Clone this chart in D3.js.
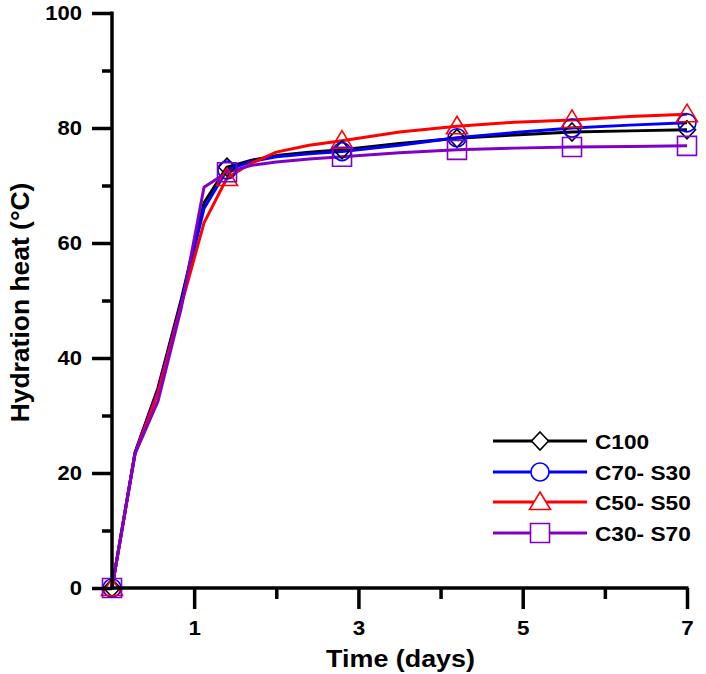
<!DOCTYPE html>
<html>
<head>
<meta charset="utf-8">
<script src="https://cdn.jsdelivr.net/npm/d3@7"></script>
<style>
  html, body { margin: 0; padding: 0; background: #fff; }
  svg { display: block; }
  text { font-family: Arial, "Liberation Sans", sans-serif; font-weight: bold; fill: #000; }
</style>
</head>
<body>
<svg id="chart" width="706" height="674"></svg>
<script>
// ---- data ----
const days = [0, 0.28, 0.56, 0.84, 1.12, 1.4, 1.7, 2.0, 2.4, 2.8, 3.5, 4.2, 4.9, 5.6, 6.3, 7.0];
const markerDays = [0, 1.4, 2.8, 4.2, 5.6, 7.0];
const seriesNames = ["C100", "C70- S30", "C50- S50", "C30- S70"];
const c100   = [0, 23.5, 34.8, 50.0, 67.0, 73.2, 74.4, 75.2, 75.8, 76.2, 77.3, 78.2, 78.8, 79.3, 79.5, 79.7];
const c70s30 = [0, 23.5, 34.5, 49.5, 66.0, 72.7, 74.2, 75.0, 75.5, 75.9, 77.0, 78.3, 79.2, 80.0, 80.5, 80.9];
const c50s50 = [0, 23.3, 34.0, 49.0, 63.5, 71.3, 73.9, 75.8, 77.0, 77.8, 79.3, 80.3, 81.0, 81.4, 82.0, 82.4];
const c30s70 = [0, 23.3, 32.5, 48.5, 69.7, 72.3, 73.5, 74.1, 74.6, 75.0, 75.7, 76.2, 76.5, 76.7, 76.8, 76.9];
const xTickLabels = [1, 3, 5, 7];
const xMinorTicks = [2, 4, 6];
const yTickLabels = [0, 20, 40, 60, 80, 100];
const yMinorTicks = [10, 30, 50, 70, 90];
const xTitle = "Time (days)";
const yTitle = "Hydration heat (°C)";

const seriesValues = [c100, c70s30, c50s50, c30s70];
const colors = ["#000000", "#0000ff", "#ff0000", "#8000c8"];
const shapes = ["diamond", "circle", "triangle", "square"];

// ---- layout ----
const svg = d3.select("#chart");
const mLeft = 112, mTop = 13, mRight = 687, mBottom = 588;
const x = d3.scaleLinear().domain([0, 7]).range([mLeft, mRight]);
const y = d3.scaleLinear().domain([0, 100]).range([mBottom, mTop]);

function markerPath(shape) {
  const p = d3.path();
  if (shape === "diamond") {
    p.moveTo(0, -9); p.lineTo(8.5, 0); p.lineTo(0, 9); p.lineTo(-8.5, 0); p.closePath();
  } else if (shape === "circle") {
    p.arc(0, 0, 9, 0, 2 * Math.PI); p.closePath();
  } else if (shape === "triangle") {
    p.moveTo(0, -10); p.lineTo(10.5, 7.5); p.lineTo(-10.5, 7.5); p.closePath();
  } else {
    p.rect(-9.5, -9.5, 19, 19);
  }
  return p.toString();
}

const plot = svg.append("g");
const line = d3.line()
  .x((d, i) => x(days[i]))
  .y(d => y(d))
  .curve(d3.curveLinear);

seriesValues.forEach((vals, si) => {
  plot.append("path")
    .attr("d", line(vals))
    .attr("fill", "none")
    .attr("stroke", colors[si])
    .attr("stroke-width", 3)
    .attr("stroke-linejoin", "round");
});

seriesValues.forEach((vals, si) => {
  markerDays.forEach(md => {
    const idx = days.indexOf(md);
    plot.append("path")
      .attr("d", markerPath(shapes[si]))
      .attr("transform", `translate(${x(md)},${y(vals[idx])})`)
      .attr("fill", "none")
      .attr("stroke", colors[si])
      .attr("stroke-width", 1.6);
  });
});

// ---- axes ----
const xAxisMajor = d3.axisBottom(x).tickValues(xTickLabels).tickSize(21).tickPadding(12).tickFormat(d3.format("d"));
const xAxisMinor = d3.axisBottom(x).tickValues(xMinorTicks).tickSize(11).tickFormat("");
const yAxisMajor = d3.axisLeft(y).tickValues(yTickLabels).tickSize(20).tickPadding(10).tickFormat(d3.format("d"));
const yAxisMinor = d3.axisLeft(y).tickValues(yMinorTicks).tickSize(10).tickFormat("");

function styleAxis(g) {
  g.select(".domain").remove();
  g.selectAll(".tick line").attr("stroke", "#000").attr("stroke-width", 3.5);
  g.selectAll(".tick text").style("font-size", "20px").style("font-weight", "bold")
    .style("font-family", "Arial, 'Liberation Sans', sans-serif").attr("fill", "#000");
}
const gx = svg.append("g").attr("transform", `translate(0,${mBottom})`).call(xAxisMajor).call(styleAxis);
svg.append("g").attr("transform", `translate(0,${mBottom})`).call(xAxisMinor).call(styleAxis);
const gy = svg.append("g").attr("transform", `translate(${mLeft},0)`).call(yAxisMajor).call(styleAxis);
svg.append("g").attr("transform", `translate(${mLeft},0)`).call(yAxisMinor).call(styleAxis);

// widen tick labels slightly
gx.selectAll(".tick text").attr("transform", "scale(1.12,1)");
gy.selectAll(".tick text").each(function() {
  const t = d3.select(this);
  const xx = +t.attr("x");
  t.attr("x", xx / 1.1).attr("transform", "scale(1.1,1)");
});

// axis lines
svg.append("line").attr("x1", mLeft).attr("x2", mLeft).attr("y1", mTop - 1.5).attr("y2", mBottom + 1.5)
  .attr("stroke", "#000").attr("stroke-width", 3.5);
svg.append("line").attr("x1", mLeft - 1.5).attr("x2", mRight + 1.5).attr("y1", mBottom).attr("y2", mBottom)
  .attr("stroke", "#000").attr("stroke-width", 3.5);

// ---- titles ----
svg.append("g").attr("transform", `translate(${(mLeft + mRight) / 2 + 1},667)`)
  .append("text").attr("text-anchor", "middle").attr("transform", "scale(1.12,1)")
  .style("font-size", "24px").text(xTitle);
svg.append("g").attr("transform", `translate(29,${(mTop + mBottom) / 2 + 2})`)
  .append("text").attr("text-anchor", "middle").attr("transform", "rotate(-90) scale(1.15,1.1)")
  .style("font-size", "23px").text(yTitle);

// ---- legend ----
const legY = [441, 472, 502, 533];
const legend = svg.append("g");
seriesNames.forEach((name, si) => {
  const g = legend.append("g").attr("transform", `translate(0,${legY[si]})`);
  g.append("line").attr("x1", 493).attr("x2", 587).attr("y1", 0).attr("y2", 0)
    .attr("stroke", colors[si]).attr("stroke-width", 3);
  g.append("path").attr("d", markerPath(shapes[si])).attr("transform", "translate(540,0)")
    .attr("fill", "#fff").attr("stroke", colors[si]).attr("stroke-width", 1.6);
  g.append("g").attr("transform", "translate(595,0)")
    .append("text").attr("dy", "0.36em").attr("transform", "scale(1.08,1)")
    .style("font-size", "21px").text(name);
});
</script>
</body>
</html>
